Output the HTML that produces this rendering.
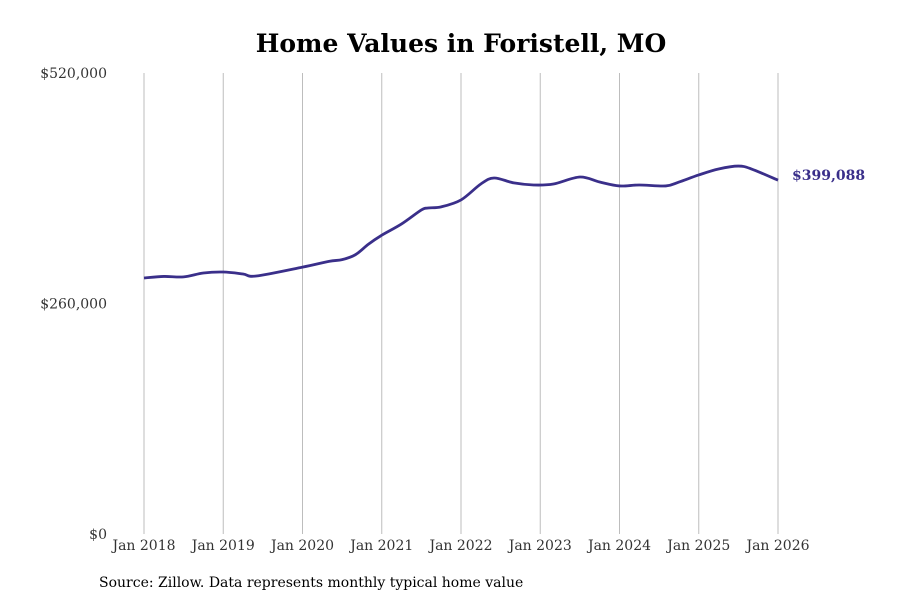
<!DOCTYPE html>
<html><head><meta charset="utf-8">
<style>
body{margin:0;background:#fff;}
svg text{font-family:"DejaVu Serif","Liberation Serif",serif;}
</style></head>
<body>
<svg id="chart" width="900" height="600" viewBox="0 0 900 600">
<text x="461" y="52" text-anchor="middle" font-size="25" font-weight="bold" fill="#000">Home Values in Foristell, MO</text>
<g id="grid"></g>
<g id="yticks"></g>
<g id="xticks"></g>
<path id="line" fill="none" stroke="#3a2f8a" stroke-width="2.8" stroke-linejoin="round"></path>
<text id="endlabel" font-size="14" font-weight="bold" fill="#3a2f8a"></text>
<text x="99" y="587" font-size="14" fill="#000">Source: Zillow. Data represents monthly typical home value</text>
</svg>
<script>
const monthOffsets=[0,3,6,9,12,15,17,24,28,30,32,34,36,39,42,43,45,48,51,53,56,59,62,66,69,72,75,79,81,84,87,90,92,96];
const values=[288.8,290.5,290,294.4,295.5,293.3,291,301,307.5,309.5,315,327,337,349.7,365.5,367.7,369,376.8,394.8,401.6,396,393.7,394.8,402.7,397,392.6,393.7,392.6,397,405,411.7,415,411.7,399.088];
const yTicks=[0,260000,520000];
const yTickLabels=["$0","$260,000","$520,000"];
const xTickLabels=["Jan 2018","Jan 2019","Jan 2020","Jan 2021","Jan 2022","Jan 2023","Jan 2024","Jan 2025","Jan 2026"];
const endLabel="$399,088";

const x0=144,x1=778,yTop=73,yBot=534,yMax=520000;
const xs=m=>x0+(x1-x0)*m/96;
const ys=v=>yBot-(yBot-yTop)*v/yMax;
const NS="http://www.w3.org/2000/svg";
const grid=document.getElementById('grid'),yt=document.getElementById('yticks'),xt=document.getElementById('xticks');
xTickLabels.forEach((l,i)=>{
  const x=xs(i*12);
  const ln=document.createElementNS(NS,'line');
  ln.setAttribute('x1',x);ln.setAttribute('x2',x);ln.setAttribute('y1',yTop);ln.setAttribute('y2',yBot);
  ln.setAttribute('stroke','#bdbdbd');ln.setAttribute('stroke-width','1');
  
  
  grid.appendChild(ln);
  const t=document.createElementNS(NS,'text');
  t.setAttribute('x',x);t.setAttribute('y',550);t.setAttribute('text-anchor','middle');t.setAttribute('font-size','14');t.setAttribute('fill','#333');
  t.textContent=l;
  
  
  xt.appendChild(t);
});
yTicks.forEach((v,i)=>{
  const t=document.createElementNS(NS,'text');
  t.setAttribute('x',107);t.setAttribute('y',ys(v)+5);t.setAttribute('text-anchor','end');t.setAttribute('font-size','14');t.setAttribute('fill','#333');
  t.textContent=yTickLabels[i];
  
  
  yt.appendChild(t);
});
const pts=monthOffsets.map((m,i)=>[xs(m),ys(values[i]*1000)]);
let d=`M${pts[0][0]},${pts[0][1]}`;
for(let i=0;i<pts.length-1;i++){
  const p0=pts[i-1]||pts[i],p1=pts[i],p2=pts[i+1],p3=pts[i+2]||p2;
  const c1=[p1[0]+(p2[0]-p0[0])/6,p1[1]+(p2[1]-p0[1])/6];
  const c2=[p2[0]-(p3[0]-p1[0])/6,p2[1]-(p3[1]-p1[1])/6];
  d+=` C${c1[0]},${c1[1]} ${c2[0]},${c2[1]} ${p2[0]},${p2[1]}`;
}
document.getElementById('line').setAttribute('d',d);
const el=document.getElementById('endlabel');
const last=pts[pts.length-1];
el.setAttribute('x',last[0]+14);el.setAttribute('y',last[1]);
el.textContent=endLabel;
</script>
</body></html>
